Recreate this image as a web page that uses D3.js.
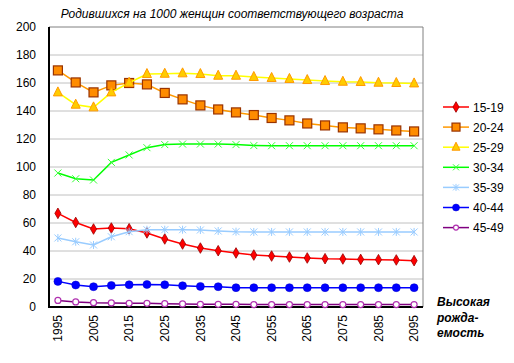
<!DOCTYPE html>
<html><head><meta charset="utf-8">
<script src="https://cdn.jsdelivr.net/npm/d3@7"></script>
<style>body{margin:0;background:#fff;}svg{display:block;font-family:"Liberation Sans",Arial,sans-serif;}</style>
</head><body>
<svg id="c" width="514" height="363"></svg>
<script>
const years = [1995,2000,2005,2010,2015,2020,2025,2030,2035,2040,2045,2050,2055,2060,2065,2070,2075,2080,2085,2090,2095];
const yTicks = [0,20,40,60,80,100,120,140,160,180,200];
const xLabels = [1995,2005,2015,2025,2035,2045,2055,2065,2075,2085,2095];
const seriesNames = ["15-19","20-24","25-29","30-34","35-39","40-44","45-49"];
const s15_19 = [66.9,60.4,55.7,56.4,55.9,52.9,48.6,45,42.1,40.2,38.6,37.1,36.4,35.7,35,34.5,34.3,34.0,33.8,33.6,33.1];
const s20_24 = [169,160.4,153.3,158.3,160,159,152.9,148.3,144,141.1,139,137.1,135,133.3,131.1,129.7,128.3,127.6,126.9,126.1,125.4];
const s25_29 = [153.3,144.5,142.6,153.3,160.2,166.4,166.6,166.9,166.4,165.2,165.2,164.3,163.6,162.9,162.1,161.4,160.9,160.7,160.2,160,159.7];
const s30_34 = [95.7,91.6,90.7,103.3,108.6,113.8,116,116.4,116.4,116.4,116,115.3,115.2,115.2,115.2,115.2,115.2,115.2,115.2,115.2,115.2];
const s35_39 = [49.3,46.6,44.3,50.2,53.8,55.2,55.2,55.2,55,54.3,53.8,53.6,53.6,53.6,53.6,53.6,53.6,53.6,53.6,53.6,53.6];
const s40_44 = [18.3,15.7,14.5,15.4,15.9,16.1,15.9,15.2,14.7,14.5,13.8,13.8,13.8,13.8,13.8,13.8,13.8,13.8,13.8,13.8,13.8];
const s45_49 = [4.7,3.6,3.1,2.9,2.6,2.6,2.4,2.2,1.9,1.9,1.9,1.7,1.7,1.7,1.7,1.7,1.7,1.7,1.7,1.7,1.7];
const title = "Родившихся на 1000 женщин соответствующего возраста";
const note = ["Высокая","рожда-","емость"];

const data = [s15_19,s20_24,s25_29,s30_34,s35_39,s40_44,s45_49];
const styles = [
 {line:"#ff0000", marker:"diamond", fill:"#ff0000", stroke:"#990000", size:6},
 {line:"#ff9900", marker:"square", fill:"#ff8c00", stroke:"#993300", size:9},
 {line:"#ffff00", marker:"triangle", fill:"#ffcc00", stroke:"#ff9900", size:9},
 {line:"#00ff00", marker:"x", fill:"none", stroke:"#33ff33", size:7},
 {line:"#99ccff", marker:"star", fill:"none", stroke:"#99ccff", size:7},
 {line:"#0000ff", marker:"circle", fill:"#0000ff", stroke:"#0000cc", size:8},
 {line:"#800080", marker:"ocircle", fill:"none", stroke:"#b030b0", size:7}
];

const svg = d3.select("#c");
const L=49, R=423, T=27, B=307;
const x = d3.scaleBand().domain(years).range([L,R]);
const y = d3.scaleLinear().domain([0,200]).range([B,T]);
const cx = d => x(d)+x.bandwidth()/2;

// title
svg.append("text").attr("x",232).attr("y",18).attr("text-anchor","middle")
  .attr("font-size",12).attr("font-style","italic").text(title);

// gridlines
svg.append("g").selectAll("line").data(yTicks.filter(t=>t>0&&t<200)).join("line")
  .attr("x1",L).attr("x2",R).attr("y1",d=>y(d)).attr("y2",d=>y(d))
  .attr("stroke","#c0c0c0").attr("stroke-width",1);
// top & right border
svg.append("path").attr("d",`M${L},${T}H${R}V${B}`).attr("fill","none").attr("stroke","#808080").attr("stroke-width",1);

// y axis labels
const yAxis = d3.axisLeft(y).tickValues(yTicks).tickSize(0).tickPadding(13);
const gy = svg.append("g").attr("transform",`translate(${L},0)`).call(yAxis);
gy.select(".domain").remove();
gy.selectAll("text").attr("font-size",12).attr("fill","#000").attr("font-family","Liberation Sans, Arial, sans-serif");

// x axis labels
const xAxis = d3.axisBottom(x).tickValues(xLabels).tickSize(0).tickPadding(0);
const gx = svg.append("g").attr("transform",`translate(0,${B})`).call(xAxis);
gx.select(".domain").remove();
gx.selectAll("text").attr("font-size",12).attr("fill","#000").attr("font-family","Liberation Sans, Arial, sans-serif")
  .attr("transform","rotate(-90)").attr("text-anchor","end").attr("dx","-8").attr("dy","0.35em").attr("y",0).attr("x",0);

// axis lines
svg.append("line").attr("x1",L).attr("x2",L).attr("y1",T).attr("y2",B).attr("stroke","#000").attr("stroke-width",2);
svg.append("line").attr("x1",L-1).attr("x2",R).attr("y1",B).attr("y2",B).attr("stroke","#000").attr("stroke-width",2);

function drawMarker(g, st, px, py){
  const s = st.size;
  if(st.marker==="diamond"){
    g.append("path").attr("d",d3.symbol(d3.symbolDiamond, s*s*0.9)()).attr("transform",`translate(${px},${py})`)
     .attr("fill",st.fill).attr("stroke",st.stroke).attr("stroke-width",0.8);
  } else if(st.marker==="square"){
    g.append("rect").attr("x",px-s/2).attr("y",py-s/2).attr("width",s).attr("height",s)
     .attr("fill",st.fill).attr("stroke",st.stroke).attr("stroke-width",1.2);
  } else if(st.marker==="triangle"){
    g.append("path").attr("d",`M${px},${py-s/2-1}L${px+s/2},${py+s/2-1}L${px-s/2},${py+s/2-1}Z`)
     .attr("fill",st.fill).attr("stroke",st.stroke).attr("stroke-width",1);
  } else if(st.marker==="x"){
    const h=s/2;
    g.append("path").attr("d",`M${px-h},${py-h}L${px+h},${py+h}M${px-h},${py+h}L${px+h},${py-h}`)
     .attr("stroke",st.stroke).attr("stroke-width",1);
  } else if(st.marker==="star"){
    const h=s/2;
    g.append("path").attr("d",`M${px-h},${py-h}L${px+h},${py+h}M${px-h},${py+h}L${px+h},${py-h}M${px},${py-h-0.5}L${px},${py+h+0.5}`)
     .attr("stroke",st.stroke).attr("stroke-width",1);
  } else if(st.marker==="circle"){
    g.append("circle").attr("cx",px).attr("cy",py).attr("r",s/2).attr("fill",st.fill).attr("stroke",st.stroke).attr("stroke-width",0.5);
  } else if(st.marker==="ocircle"){
    g.append("circle").attr("cx",px).attr("cy",py).attr("r",s/2-0.5).attr("fill","#fff").attr("stroke",st.stroke).attr("stroke-width",1.2);
  }
}

const line = d3.line().x((d,i)=>cx(years[i])).y(d=>y(d));
data.forEach((arr,k)=>{
  const st = styles[k];
  const g = svg.append("g");
  g.append("path").attr("d",line(arr)).attr("fill","none").attr("stroke",st.line).attr("stroke-width",1.5);
  arr.forEach((v,i)=>drawMarker(g, st, cx(years[i]), y(v)));
});

// legend
const lg = svg.append("g");
seriesNames.forEach((n,k)=>{
  const ly = 107 + k*20.1;
  const st = styles[k];
  lg.append("line").attr("x1",443).attr("x2",469).attr("y1",ly).attr("y2",ly).attr("stroke",st.line).attr("stroke-width",1.5);
  drawMarker(lg, Object.assign({},st,{size:st.marker==="diamond"?6:st.size-1}), 456, ly);
  lg.append("text").attr("x",473).attr("y",ly+4.5).attr("font-size",12).text(n);
});

// note
const nt = svg.append("text").attr("x",437).attr("y",306).attr("font-size",12).attr("font-weight","bold").attr("font-style","italic");
note.forEach((t,i)=>nt.append("tspan").attr("x",437).attr("dy",i===0?0:15.5).text(t));
</script>
</body></html>
